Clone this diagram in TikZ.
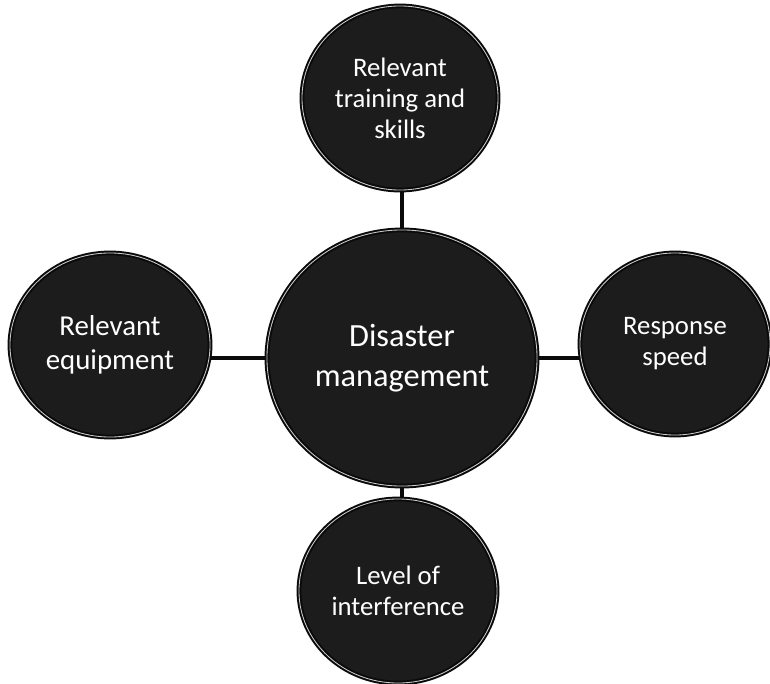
\documentclass[tikz,border=0pt]{standalone}
\usepackage{fontspec}
\setmainfont{Carlito}
\usetikzlibrary{shapes.geometric}
\definecolor{disc}{HTML}{1C1C1C}
\definecolor{rim}{HTML}{0A0A0A}

\begin{document}
\begin{tikzpicture}[x=0.025cm,y=-0.025cm,
    topic/.style={ellipse,fill=disc,draw=rim,line width=1.4pt,double=white!80!black,double distance=0.6pt,text=white,align=center,inner sep=0pt,font=\fontsize{19}{22}\selectfont},
    link/.style={line width=2.6pt,rim}]
        \useasboundingbox (0,0) rectangle (770,684);
        \node[topic,minimum width=6.75cm,minimum height=6.4cm,font=\fontsize{23}{28}\selectfont] (hub) at (402,358) {Disaster\\management};
        \node[topic,minimum width=4.9cm,minimum height=4.6cm] (training) at (400,98) {Relevant\\training and\\skills};
        \node[topic,minimum width=5cm,minimum height=4.6cm,font=\fontsize{20.5}{24}\selectfont] (equipment) at (110,345) {Relevant\\equipment};
        \node[topic,minimum width=4.75cm,minimum height=4.55cm] (speed) at (675,344) {Response\\speed};
        \node[topic,minimum width=4.95cm,minimum height=4.6cm] (interference) at (398,591) {Level of\\interference};
        \draw[link] (hub.north) -- (hub.north |- training.south);
        \draw[link] (hub.west) -- (hub.west -| equipment.east);
        \draw[link] (hub.east) -- (hub.east -| speed.west);
        \draw[link] (hub.south) -- (hub.south |- interference.north);
      \end{tikzpicture}
\end{document}
